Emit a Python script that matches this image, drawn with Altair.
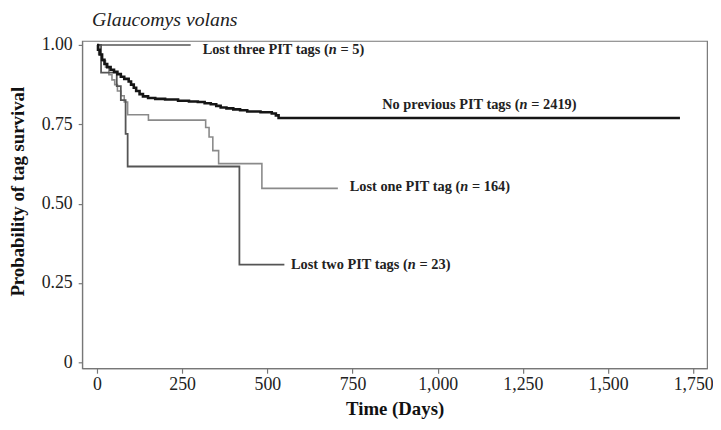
import altair as alt
import pandas as pd

# ---- data (time in days, survival probability) ----
none_t = [0, 3, 8, 15, 22, 30, 40, 50, 60, 70, 80, 93, 100, 108, 115, 125, 135, 150, 171, 200,
          238, 270, 296, 316, 334, 350, 363, 380, 400, 420, 441, 480, 513, 525, 533, 1711]
none_s = [1.0, 0.985, 0.97, 0.953, 0.94, 0.93, 0.922, 0.915, 0.908, 0.9, 0.893, 0.885, 0.875, 0.865,
          0.855, 0.845, 0.838, 0.833, 0.83, 0.828, 0.824, 0.822, 0.82, 0.816, 0.813, 0.808, 0.803,
          0.80, 0.797, 0.794, 0.79, 0.788, 0.784, 0.778, 0.77, 0.77]

one_t = [0, 5, 15, 25, 35, 44, 52, 60, 70, 80, 90, 151, 319, 329, 340, 357, 484, 707]
one_s = [1.0, 0.97, 0.95, 0.93, 0.906, 0.89, 0.875, 0.855, 0.84, 0.82, 0.78, 0.763, 0.74, 0.71,
         0.667, 0.626, 0.548, 0.548]

two_t = [0, 12, 58, 70, 84, 90, 418, 550]
two_s = [1.0, 0.913, 0.87, 0.826, 0.72, 0.617, 0.308, 0.308]

three_t = [0, 275]
three_s = [1.0, 1.0]

series_names = ["No previous PIT tags", "Lost one PIT tag", "Lost two PIT tags", "Lost three PIT tags"]
series_colors = ["#151515", "#8a8a8a", "#555555", "#555555"]
series_widths = [2.6, 1.6, 1.8, 1.6]

label_pre = ["No previous PIT tags (", "Lost one PIT tag (", "Lost two PIT tags (", "Lost three PIT tags ("]
label_n = ["n", "n", "n", "n"]
label_post = ["= 2419)", "= 164)", "= 23)", "= 5)"]
label_x = [1240, 1066, 912, 680]
label_y = [0.81, 0.551, 0.308, 0.984]

x_ticks = [0, 250, 500, 750, 1000, 1250, 1500, 1750]
y_ticks = [0, 0.25, 0.5, 0.75, 1.0]

# ---- build tables ----
rows = []
for name, ts, ss in zip(series_names,
                        [none_t, one_t, two_t, three_t],
                        [none_s, one_s, two_s, three_s]):
    for t, s in zip(ts, ss):
        rows.append({"series": name, "time": t, "surv": s})
curves = pd.DataFrame(rows)

labels = pd.DataFrame({"pre": label_pre, "n": label_n, "post": label_post,
                       "x": label_x, "y": label_y})

xscale = alt.Scale(domain=[-43.5, 1790.6], nice=False, zero=False)
yscale = alt.Scale(domain=[-0.0187, 1.0125], nice=False, zero=False)

xaxis = alt.Axis(values=x_ticks, labelExpr="format(datum.value, ',.0f')", title="Time (Days)",
                 grid=False, tickSize=5, labelPadding=3, titlePadding=6)
yaxis = alt.Axis(values=y_ticks, title="Probability of tag survival", grid=False,
                 labelExpr="datum.value == 0 ? '0' : format(datum.value, '.2f')",
                 tickSize=4, labelPadding=6,
                 titleX=-65, titleY=152, titleAlign="center", titleBaseline="middle")

layers = []
order = [1, 2, 3, 0]  # draw black curve last
for i in order:
    d = curves[curves.series == series_names[i]]
    layers.append(
        alt.Chart(d).mark_line(interpolate="step-after", color=series_colors[i],
                               strokeWidth=series_widths[i], strokeJoin="miter")
        .encode(x=alt.X("time:Q", scale=xscale, axis=xaxis),
                y=alt.Y("surv:Q", scale=yscale, axis=yaxis))
    )

font = "Liberation Serif"
fs = 14.5
base = alt.Chart(labels).encode(x=alt.X("x:Q", scale=xscale), y=alt.Y("y:Q", scale=yscale))
t_pre = base.mark_text(align="right", baseline="middle", font=font, fontSize=fs,
                       fontWeight="bold", color="#222").encode(text="pre:N")
t_n = base.mark_text(align="left", baseline="middle", font=font, fontSize=fs,
                     fontWeight="bold", fontStyle="italic", color="#222").encode(text="n:N")
t_post = base.mark_text(align="left", baseline="middle", dx=12, font=font, fontSize=fs,
                        fontWeight="bold", color="#222").encode(text="post:N")

chart = alt.layer(*layers, t_pre, t_n, t_post).properties(
    width=632, height=331,
    padding={"left": 75, "top": 31, "right": 6, "bottom": 50},
    autosize="none",
    title=alt.TitleParams("Glaucomys volans", anchor="start", frame="group", dx=10, offset=6,
                          font=font, fontSize=20, fontStyle="italic",
                          fontWeight="normal", color="#222"),
).configure_view(stroke="#777", strokeWidth=1.2).configure_axis(
    labelFont=font, labelFontSize=18, labelColor="#222",
    titleFont=font, titleFontSize=19, titleFontWeight="bold", titleColor="#111",
    domainColor="#777", domainWidth=1.2, tickColor="#777", tickWidth=1.2,
)

chart.save("out.html", embed_options={"renderer": "svg", "actions": False})
